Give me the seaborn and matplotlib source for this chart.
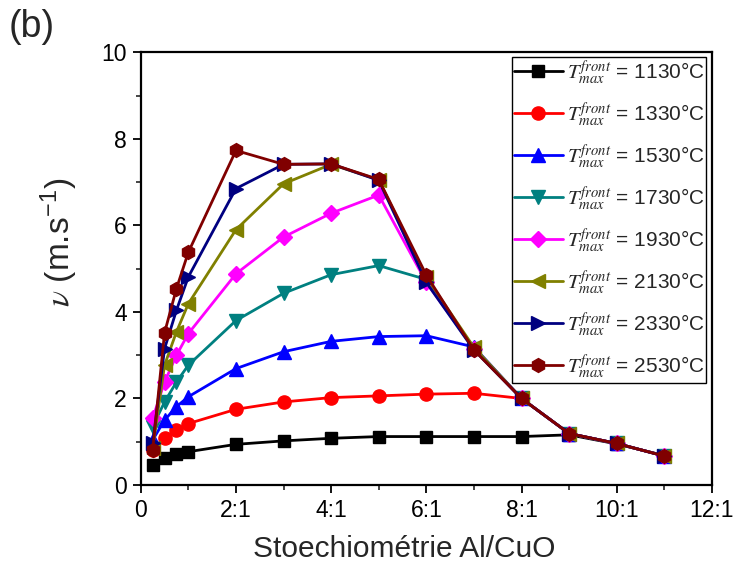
import matplotlib
matplotlib.use("Agg")
import matplotlib.pyplot as plt
import seaborn as sns
import pandas as pd

# ---- data ----
x_ratio = [0.25, 0.5, 0.75, 1, 2, 3, 4, 5, 6, 7, 8, 9, 10, 11]
temps = ["1130", "1330", "1530", "1730", "1930", "2130", "2330", "2530"]
v_1130 = [0.46, 0.62, 0.72, 0.77, 0.94, 1.02, 1.08, 1.12, 1.12, 1.12, 1.12, 1.16, 0.95, 0.68]
v_1330 = [0.81, 1.09, 1.28, 1.42, 1.75, 1.92, 2.02, 2.06, 2.10, 2.12, 2.00, 1.19, 0.96, 0.67]
v_1530 = [1.04, 1.50, 1.81, 2.04, 2.69, 3.08, 3.32, 3.43, 3.45, 3.19, 2.00, 1.19, 0.96, 0.67]
v_1730 = [1.35, 1.92, 2.38, 2.77, 3.80, 4.43, 4.86, 5.07, 4.75, 3.15, 2.00, 1.19, 0.96, 0.67]
v_1930 = [1.54, 2.38, 3.00, 3.50, 4.88, 5.73, 6.28, 6.70, 4.68, 3.15, 2.00, 1.19, 0.96, 0.67]
v_2130 = [0.85, 2.77, 3.54, 4.19, 5.90, 6.96, 7.41, 7.05, 4.80, 3.18, 2.00, 1.19, 0.96, 0.67]
v_2330 = [0.96, 3.15, 4.04, 4.81, 6.85, 7.41, 7.42, 7.04, 4.68, 3.12, 2.00, 1.19, 0.96, 0.67]
v_2530 = [0.81, 3.52, 4.54, 5.38, 7.73, 7.41, 7.42, 7.06, 4.85, 3.12, 2.00, 1.19, 0.96, 0.67]
series = [v_1130, v_1330, v_1530, v_1730, v_1930, v_2130, v_2330, v_2530]
xtick_vals = [0, 2, 4, 6, 8, 10, 12]
xtick_labels = ["0", "2:1", "4:1", "6:1", "8:1", "10:1", "12:1"]

colors = ["#000000", "#ff0000", "#0000ff", "#008080", "#ff00ff", "#808000", "#000080", "#800000"]
markers = ["s", "o", "^", "v", "D", "<", ">", "h"]
msizes = [8, 9.5, 9.5, 9.5, 8, 9.5, 9.5, 10]

sns.set_style("ticks")
plt.rcParams["font.family"] = ["Liberation Sans", "DejaVu Sans"]
plt.rcParams["mathtext.fontset"] = "stix"

fig = plt.figure(figsize=(7.37, 5.74), dpi=100)
ax = fig.add_axes([0.191, 0.155, 0.775, 0.754])

for t, vals, c, m, ms in zip(temps, series, colors, markers, msizes):
    df = pd.DataFrame({"x": x_ratio, "v": vals})
    sns.lineplot(data=df, x="x", y="v", ax=ax, color=c, marker=m, markersize=ms,
                 markeredgecolor=c, markeredgewidth=1, linewidth=2,
                 label=r"$T_{max}^{front}$ = " + t + "°C", sort=False)

ax.set_xlim(0, 12)
ax.set_ylim(0, 10)
ax.set_xticks(xtick_vals)
ax.set_xticklabels(xtick_labels)
ax.set_xticks(range(1, 12, 2), minor=True)
ax.set_yticks([0, 2, 4, 6, 8, 10])
ax.set_yticks([1, 3, 5, 7, 9], minor=True)
ax.tick_params(which="major", direction="out", length=6, width=1.3, labelsize=16.5,
               colors="black", pad=4)
ax.tick_params(which="minor", direction="out", length=3.5, width=1.2)
for s in ax.spines.values():
    s.set_visible(True)
    s.set_linewidth(1.6)
    s.set_color("black")

ax.set_xlabel("Stoechiométrie Al/CuO", fontsize=21.5)
ax.xaxis.set_label_coords(0.462, -0.115)
ax.set_ylabel(r"$\nu$ (m.s$^{\mathregular{-1}}$)", fontsize=24)
ax.yaxis.set_label_coords(-0.108, 0.56)

leg = ax.legend(loc="upper right", bbox_to_anchor=(0.99, 0.99), borderaxespad=0,
                fontsize=15, frameon=True, fancybox=False, edgecolor="black",
                framealpha=1, handlelength=2.35, labelspacing=0.635, handletextpad=0.2,
                borderpad=0.08)
leg.get_frame().set_linewidth(1.0)

fig.text(0.012, 0.935, "(b)", fontsize=27)

fig.savefig("out.png", dpi=100)
